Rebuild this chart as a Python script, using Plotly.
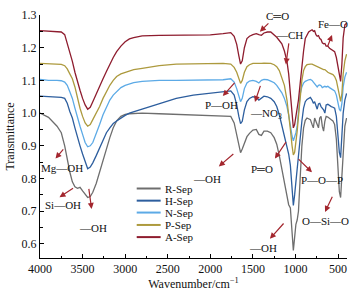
import plotly.graph_objects as go

# ---------------- data ----------------
wavenumber = [
    4000, 3900, 3800, 3750, 3710, 3680, 3650, 3620, 3590, 3560,
    3530, 3500, 3470, 3440, 3410, 3380, 3340, 3300, 3260, 3220,
    3180, 3140, 3100, 3050, 3000, 2950, 2900, 2800, 2600, 2400,
    2200, 2000, 1850, 1760, 1720, 1690, 1665, 1645, 1625, 1600,
    1570, 1540, 1500, 1460, 1430, 1400, 1370, 1330, 1290, 1250,
    1220, 1190, 1160, 1130, 1100, 1080, 1060, 1040, 1025, 1010,
    995, 980, 965, 945, 925, 905, 885, 865, 845, 825,
    805, 790, 775, 760, 745, 730, 715, 700, 685, 670,
    655, 640, 620, 600, 580, 560, 540, 520, 500, 485,
    470, 455, 440, 420, 400,
]

r_sep = [
    1.000, 0.987, 0.960, 0.940, 0.900, 0.855, 0.820, 0.790, 0.775, 0.770,
    0.773, 0.762, 0.750, 0.742, 0.745, 0.758, 0.785, 0.820, 0.860, 0.895,
    0.925, 0.955, 0.976, 0.990, 0.996, 0.998, 0.999, 1.000, 0.998, 0.996,
    0.995, 0.994, 0.992, 0.990, 0.970, 0.930, 0.895, 0.879, 0.890, 0.910,
    0.928, 0.938, 0.948, 0.950, 0.935, 0.932, 0.945, 0.945, 0.940, 0.925,
    0.905, 0.870, 0.830, 0.790, 0.750, 0.720, 0.710, 0.650, 0.580, 0.620,
    0.660, 0.673, 0.700, 0.800, 0.900, 0.955, 0.978, 0.985, 0.982, 0.980,
    0.965, 0.955, 0.985, 0.975, 0.960, 0.955, 0.985, 0.990, 0.960, 0.945,
    0.975, 0.990, 0.988, 0.985, 0.980, 0.976, 0.965, 0.920, 0.830, 0.760,
    0.742, 0.820, 0.900, 0.960, 0.985,
]

h_sep = [
    1.052, 1.050, 1.050, 1.048, 1.045, 1.030, 1.005, 0.985, 0.955, 0.925,
    0.900, 0.875, 0.850, 0.830, 0.835, 0.848, 0.870, 0.895, 0.920, 0.940,
    0.955, 0.968, 0.976, 0.985, 0.993, 1.000, 1.004, 1.012, 1.030, 1.045,
    1.055, 1.060, 1.065, 1.068, 1.055, 1.025, 0.990, 0.968, 0.975, 1.010,
    1.035, 1.045, 1.050, 1.048, 1.040, 1.045, 1.052, 1.050, 1.045, 1.035,
    1.020, 0.995, 0.960, 0.930, 0.895, 0.875, 0.840, 0.770, 0.718, 0.750,
    0.790, 0.820, 0.880, 0.925, 0.975, 1.015, 1.035, 1.042, 1.046, 1.048,
    1.040, 1.030, 1.035, 1.025, 1.012, 1.028, 1.030, 1.020, 1.015, 1.010,
    1.000, 1.025, 1.027, 1.022, 1.020, 1.018, 1.015, 0.990, 0.930, 0.880,
    0.864, 0.930, 1.000, 1.040, 1.060,
]

n_sep = [
    1.103, 1.100, 1.100, 1.099, 1.095, 1.085, 1.065, 1.045, 1.015, 0.985,
    0.960, 0.935, 0.910, 0.897, 0.900, 0.910, 0.935, 0.965, 0.995, 1.020,
    1.040, 1.055, 1.065, 1.078, 1.085, 1.090, 1.093, 1.097, 1.100, 1.100,
    1.100, 1.100, 1.102, 1.105, 1.095, 1.075, 1.050, 1.035, 1.045, 1.075,
    1.092, 1.098, 1.100, 1.097, 1.092, 1.100, 1.103, 1.102, 1.098, 1.093,
    1.085, 1.075, 1.062, 1.045, 1.020, 0.995, 0.960, 0.930, 0.915, 0.925,
    0.940, 0.960, 1.000, 1.058, 1.080, 1.092, 1.097, 1.100, 1.102, 1.103,
    1.100, 1.095, 1.090, 1.088, 1.080, 1.085, 1.086, 1.084, 1.078, 1.080,
    1.082, 1.080, 1.082, 1.078, 1.075, 1.073, 1.068, 1.055, 1.030, 1.012,
    1.006, 1.030, 1.080, 1.110, 1.125,
]

p_sep = [
    1.152, 1.150, 1.150, 1.149, 1.145, 1.135, 1.120, 1.105, 1.080, 1.045,
    1.015, 0.990, 0.970, 0.960, 0.965, 0.980, 1.000, 1.020, 1.045, 1.067,
    1.085, 1.100, 1.112, 1.120, 1.125, 1.130, 1.133, 1.137, 1.145, 1.150,
    1.151, 1.152, 1.152, 1.150, 1.140, 1.125, 1.105, 1.091, 1.100, 1.125,
    1.142, 1.148, 1.152, 1.152, 1.150, 1.152, 1.153, 1.153, 1.152, 1.148,
    1.142, 1.130, 1.110, 1.085, 1.040, 1.000, 0.950, 0.900, 0.872, 0.880,
    0.910, 0.945, 0.990, 1.058, 1.100, 1.130, 1.142, 1.148, 1.150, 1.150,
    1.150, 1.148, 1.147, 1.145, 1.142, 1.140, 1.140, 1.137, 1.135, 1.133,
    1.133, 1.128, 1.125, 1.122, 1.120, 1.118, 1.112, 1.100, 1.075, 1.050,
    1.036, 1.060, 1.120, 1.160, 1.180,
]

a_sep = [
    1.252, 1.250, 1.249, 1.248, 1.240, 1.215, 1.185, 1.158, 1.125, 1.095,
    1.070, 1.045, 1.025, 1.012, 1.018, 1.035, 1.060, 1.080, 1.105, 1.127,
    1.150, 1.170, 1.188, 1.205, 1.218, 1.227, 1.231, 1.236, 1.238, 1.238,
    1.238, 1.239, 1.243, 1.246, 1.235, 1.210, 1.175, 1.150, 1.160, 1.200,
    1.228, 1.235, 1.240, 1.243, 1.240, 1.238, 1.245, 1.248, 1.248, 1.240,
    1.232, 1.222, 1.212, 1.190, 1.158, 1.120, 1.065, 1.000, 0.955, 0.965,
    0.990, 1.010, 1.040, 1.090, 1.145, 1.190, 1.228, 1.240, 1.248, 1.252,
    1.255, 1.250, 1.252, 1.240, 1.235, 1.237, 1.228, 1.225, 1.215, 1.212,
    1.213, 1.205, 1.205, 1.198, 1.195, 1.190, 1.188, 1.170, 1.140, 1.110,
    1.097, 1.150, 1.230, 1.270, 1.275,
]

series_names = ["R-Sep", "H-Sep", "N-Sep", "P-Sep", "A-Sep"]
series_values = [r_sep, h_sep, n_sep, p_sep, a_sep]
series_colors = ["#6e6e6e", "#2d5e9e", "#5caae6", "#ad9a3e", "#8e1c2e"]

x_tick_values = [4000, 3500, 3000, 2500, 2000, 1500, 1000, 500]
y_tick_values = [0.6, 0.7, 0.8, 0.9, 1.0, 1.1, 1.2, 1.3]

# band labels: (text, text_wn, text_T, arrow_tail_wn, arrow_tail_T, arrow_head_wn, arrow_head_T)
band_labels = [
    ("C═O", 1206, 1.297, 1300, 1.279, 1418, 1.249),
    ("—CH", 1065, 1.239, 1076, 1.218, 1112, 1.149),
    ("Fe—O", 559, 1.273, 629, 1.200, 571, 1.239),
    ("P—OH", 1865, 1.025, 1700, 1.097, 1853, 1.052),
    ("—NO<sub>3</sub>", 1347, 0.998, 1406, 1.088, 1476, 1.034),
    ("Mg—OH", 3747, 0.831, 3712, 0.894, 3818, 0.861),
    ("Si—OH", 3735, 0.719, 3594, 0.773, 3771, 0.743),
    ("—OH", 3382, 0.649, 3429, 0.773, 3394, 0.707),
    ("—OH", 2041, 0.800, 1712, 0.879, 1900, 0.837),
    ("P═O", 1394, 0.828, 1100, 0.916, 1241, 0.861),
    ("P—O—P", 688, 0.795, 982, 0.864, 806, 0.819),
    ("O—Si—O", 653, 0.670, 559, 0.749, 653, 0.698),
    ("—OH", 1382, 0.589, 1124, 0.667, 1300, 0.616),
]

# ---------------- figure ----------------
FONT = "Liberation Serif, Times New Roman, serif"
ARROW = "#a3262e"

fig = go.Figure()
for name, vals, col in zip(series_names, series_values, series_colors):
    fig.add_trace(go.Scatter(
        x=wavenumber, y=vals, mode="lines", name=name,
        line=dict(color=col, width=1.3), showlegend=False,
    ))

annotations = []
for text, tx, ty, ax_, ay_, hx, hy in band_labels:
    annotations.append(dict(
        x=hx, y=hy, ax=ax_, ay=ay_, xref="x", yref="y", axref="x", ayref="y",
        text="", showarrow=True, arrowhead=2, arrowsize=1, arrowwidth=1.2,
        arrowcolor=ARROW, standoff=0, startstandoff=0,
    ))
    annotations.append(dict(
        x=tx, y=ty, xref="x", yref="y", text=text, showarrow=False,
        font=dict(family=FONT, size=11, color="#111111"),
        xanchor="center", yanchor="middle",
    ))

# manual legend (compact spacing as in the reference)
legend_x0, legend_x1, legend_text_x = 0.315, 0.393, 0.400
legend_rows = [0.286, 0.236, 0.187, 0.136, 0.086]
shapes = []
for name, col, yy in zip(series_names, series_colors, legend_rows):
    shapes.append(dict(type="line", xref="paper", yref="paper",
                       x0=legend_x0, x1=legend_x1, y0=yy, y1=yy,
                       line=dict(color=col, width=2)))
    annotations.append(dict(x=legend_text_x, y=yy, xref="paper", yref="paper",
                            text=name, showarrow=False, xanchor="left",
                            yanchor="middle",
                            font=dict(family=FONT, size=11, color="#111111")))

fig.update_layout(
    width=355, height=297,
    margin=dict(l=40, r=8, t=13, b=39),
    paper_bgcolor="white", plot_bgcolor="white",
    font=dict(family=FONT, size=12, color="#111111"),
    annotations=annotations, shapes=shapes,
    showlegend=False,
)
fig.update_xaxes(
    range=[4000, 395], tickvals=x_tick_values,
    showline=True, linecolor="black", linewidth=1, mirror=False,
    ticks="inside", ticklen=4, tickcolor="black",
    minor=dict(dtick=250, ticks="inside", ticklen=2.5, tickcolor="black"),
    showgrid=False, zeroline=False,
    title=dict(text="Wavenumber/cm<sup>−1</sup>", font=dict(size=12), standoff=4),
    tickfont=dict(size=12),
)
fig.update_yaxes(
    range=[0.557, 1.3], tickvals=y_tick_values, tickformat=".1f",
    showline=True, linecolor="black", linewidth=1, mirror=False,
    ticks="inside", ticklen=4, tickcolor="black",
    minor=dict(dtick=0.05, tick0=0.6, ticks="inside", ticklen=2.5, tickcolor="black"),
    showgrid=False, zeroline=False,
    title=dict(text="Transmittance", font=dict(size=12), standoff=4),
    tickfont=dict(size=12),
)

fig.write_html(
    "out.html",
    config={"displayModeBar": False},
    post_script="document.body.style.margin='0px';document.body.style.overflow='hidden';",
)
